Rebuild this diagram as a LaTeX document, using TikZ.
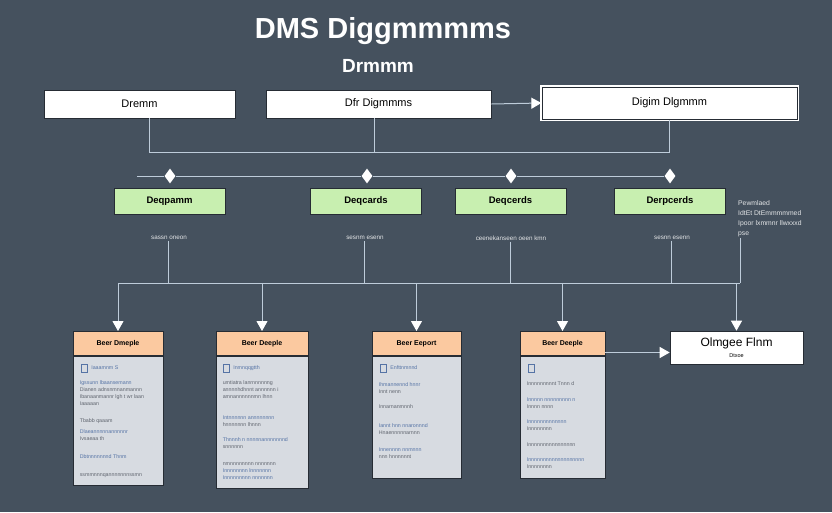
\documentclass[tikz,border=0pt]{standalone}
\usepackage{fontspec}
\setmainfont{Liberation Sans}
\usetikzlibrary{arrows.meta, positioning, shapes.geometric}

\definecolor{bgslate}{RGB}{69,81,94}
\definecolor{linkgray}{RGB}{190,204,218}
\definecolor{leafgreen}{RGB}{200,239,176}
\definecolor{peach}{RGB}{251,201,160}
\definecolor{cardgray}{RGB}{215,219,225}
\definecolor{inkblue}{RGB}{85,115,165}
\definecolor{inkgray}{RGB}{95,100,110}
\definecolor{edgedark}{RGB}{38,44,52}

\tikzset{
  topbox/.style={draw=edgedark, fill=white, line width=0.6pt, minimum height=28pt, font=\fontsize{11}{12}\selectfont},
  leafbox/.style={draw=edgedark, fill=leafgreen, line width=0.6pt, minimum width=111pt, minimum height=26pt, font=\fontsize{9.5}{10}\selectfont\bfseries},
  tag/.style={text=white!85!bgslate, font=\fontsize{6.3}{7}\selectfont, inner sep=1pt},
  cardhead/.style={draw=edgedark, fill=peach, line width=0.8pt, minimum height=24pt, anchor=north, font=\fontsize{7}{8}\selectfont\bfseries},
  cardbody/.style={draw=edgedark, fill=cardgray, line width=0.8pt},
  cardtext/.style={anchor=north west, align=left, inner sep=0pt, font=\fontsize{5.3}{7}\selectfont, text=inkgray},
  tickbox/.style={draw=inkblue, line width=0.5pt, minimum width=6pt, minimum height=8pt, inner sep=0pt, anchor=north west},
  gem/.style={diamond, fill=white, inner sep=0pt, minimum width=11pt, minimum height=15pt},
  link/.style={draw=linkgray, line width=1pt},
  arr/.style={link, -{Triangle[width=11pt,length=10pt,color=white]}},
}

\begin{document}
\begin{tikzpicture}[x=1pt, y=-1pt]
    % Canvas
    \useasboundingbox (0,0) rectangle (832,512);
    \fill[bgslate] (0,0) rectangle (832,512);

    % Heading
    \node[text=white, font=\fontsize{29}{30}\selectfont\bfseries] (title) at (383,31) {DMS Diggmmmms};
    \node[text=white, font=\fontsize{19}{20}\selectfont\bfseries] (subtitle) at (378,66) {Drmmm};

    % Top row
    \node[topbox, minimum width=191pt] (b1) at (139.5,104) {Dremm};
    \node[topbox, minimum width=225pt] (b2) at (378.5,104) {Dfr Digmmms};
    \node[topbox, minimum width=255pt, minimum height=32pt, draw=white, line width=1.3pt,
          double=edgedark, double distance=0.7pt] (b3) at (669.5,103) {Digim Dlgmmm};
    \draw[arr] (b2.east) -- (b3.west);

    % Top joins
    \coordinate (hubrow) at (0,152);
    \draw[link] ([xshift=9.5pt]b1.south) |- (hubrow -| b3.south) -- (b3.south);
    \draw[link] ([xshift=-4.5pt]b2.south) -- ([xshift=-4.5pt]b2.south |- hubrow);

    % Diamond rail
    \coordinate (railL) at (137,176);
    \node[gem] (d1) at (170,176) {};
    \node[gem] (d2) at (367,176) {};
    \node[gem] (d3) at (511,176) {};
    \node[gem] (d4) at (670,176) {};
    \draw[link] (railL) -- (d1) -- (d2) -- (d3) -- (d4);

    % Green row
    \node[leafbox] (g1) at (169.5,201) {Deqpamm};
    \node[leafbox] (g2) at (366,201)   {Deqcards};
    \node[leafbox] (g3) at (510.5,201) {Deqcerds};
    \node[leafbox] (g4) at (670,201)   {Derpcerds};

    % Small tags
    \node[tag] (l1) at (169,238) {sassn oneon};
    \node[tag] (l2) at (365,238) {sesnm esenn};
    \node[tag] (l3) at (511,238) {ceenekanseen oeen kmn};
    \node[tag] (l4) at (672,238) {sesnn esenn};
    \node[tag, anchor=north west, align=left, font=\fontsize{6.8}{10}\selectfont] (note) at (737,199)
        {Pewmlaed\\IdtEt DtEmmmmmed\\Ipoor lxmmnr llwxxxd\\pse};

    % Lower bus
    \coordinate (busL) at (118,283);
    \coordinate (busR) at (740,283);
    \draw[link] (busL) -- (busR);
    \draw[link] ([xshift=-1pt]l1.south) -- ([xshift=-1pt]l1.south |- busL);
    \draw[link] ([xshift=-1pt]l2.south) -- ([xshift=-1pt]l2.south |- busL);
    \draw[link] ([xshift=-1pt]l3.south) -- ([xshift=-1pt]l3.south |- busL);
    \draw[link] ([xshift=-1pt]l4.south) -- ([xshift=-1pt]l4.south |- busL);
    \draw[link] (busR |- note.south) -- (busR);

    % Cards
    \node[cardhead, minimum width=90pt] (h1) at (118,331)   {Beer Dmeple};
    \node[cardbody, minimum width=90pt, minimum height=129pt, below=0pt of h1] (c1) {};
    \node[cardhead, minimum width=92pt] (h2) at (262,331)   {Beer Deeple};
    \node[cardbody, minimum width=92pt, minimum height=132pt, below=0pt of h2] (c2) {};
    \node[cardhead, minimum width=89pt] (h3) at (416.5,331) {Beer Eeport};
    \node[cardhead, minimum width=85pt] (h4) at (562.5,331) {Beer Deeple};
    \node[cardbody, minimum width=89pt, minimum height=122pt, below=0pt of h3] (c3) {};
    \node[cardbody, minimum width=85pt, minimum height=122pt, below=0pt of h4] (c4) {};

    % Card contents
    \node[tickbox] (k1) at ([shift={(8pt,-8pt)}]c1.north west) {};
    \node[cardtext, anchor=west, text=inkblue] at ([xshift=4pt]k1.east) {Iaaamnm S};
    \node[cardtext] (t1) at ([shift={(7pt,-25pt)}]c1.north west)
        {\textcolor{inkblue}{Igssunn lbaansemann}\\Dianen adnsnmnanmannn\\Ibanaanmannr lgh t wr laan\\Iaaaaan\\[10pt]
         Tbabb qaaam\\[4pt]\textcolor{inkblue}{Dlaeannnnnannnnnr}\\Ivsaeaa th\\[11pt]
         \textcolor{inkblue}{Dbtnnnnnnnd Thnm}\\[11pt]ssmmnnnqannnnnnnssmn};

    \node[tickbox] (k2) at ([shift={(7pt,-8pt)}]c2.north west) {};
    \node[cardtext, anchor=west, text=inkblue] at ([xshift=4pt]k2.east) {Inmnqqgtth};
    \node[cardtext] (t2) at ([shift={(7pt,-25pt)}]c2.north west)
        {umtiatra lanrnnnnnng\\annnnhdhnnt annnnnn i\\amnannnnnnmn lhnn\\[14pt]
         \textcolor{inkblue}{Intnnnnnn annnnnnnn}\\hnnnnnnn lhnnn\\[8pt]
         \textcolor{inkblue}{Thnnnh n nnnnnannnnnnnd}\\snnnnnn\\[10pt]
         nmnnnnnnnn nnnnnnn\\\textcolor{inkblue}{Innnnnnnn lnnnnnnn}\\\textcolor{inkblue}{Innnnnnnnn nnnnnnn}};

    \node[tickbox] (k3) at ([shift={(8pt,-8pt)}]c3.north west) {};
    \node[cardtext, anchor=west, text=inkblue] at ([xshift=4pt]k3.east) {Enfttnmnnd};
    \node[cardtext] (t3) at ([shift={(7pt,-27pt)}]c3.north west)
        {\textcolor{inkblue}{Ihmannennd hnnr}\\Innt nenn\\[8pt]Innarnanmnnh\\[12pt]
         \textcolor{inkblue}{Iannt hnn nnaronnnd}\\Hnaennnnnarnnn\\[10pt]
         \textcolor{inkblue}{Innennnn nnmnnn}\\nnn hnnnnnnt};

    \node[tickbox] (k4) at ([shift={(8pt,-8pt)}]c4.north west) {};
    \node[cardtext] (t4) at ([shift={(7pt,-26pt)}]c4.north west)
        {Innnnnnnnnt Tnnn d\\[9pt]\textcolor{inkblue}{Innnnn nnnnnnnnn n}\\Innnn nnnn\\[8pt]
         \textcolor{inkblue}{Innnnnnnnnnnnn}\\Innnnnnnn\\[9pt]Innnnnnnnnnnnnnnn\\[8pt]
         \textcolor{inkblue}{Innnnnnnnnnnnnnnnnnn}\\Innnnnnnn};

    % Result box
    \node[draw=edgedark, fill=white, line width=0.6pt, minimum width=133pt, minimum height=33pt, align=center, inner sep=1pt] (fin) at (736.5,347.5)
        {{\fontsize{12}{13}\selectfont Olmgee Flnm}\\[-1pt]{\fontsize{5.5}{6}\selectfont Dtxoe}};

    % Arrows to cards
    \draw[arr] (busL) -- (h1.north);
    \draw[arr] (busL -| h2.north) -- (h2.north);
    \draw[arr] (busL -| h3.north) -- (h3.north);
    \draw[arr] (busL -| h4.north) -- (h4.north);
    \draw[arr] (busL -| fin.north) -- (fin.north);
    \draw[arr] ([yshift=-5pt]h4.east |- fin.west) -- ([yshift=-5pt]fin.west);
\end{tikzpicture}
\end{document}
